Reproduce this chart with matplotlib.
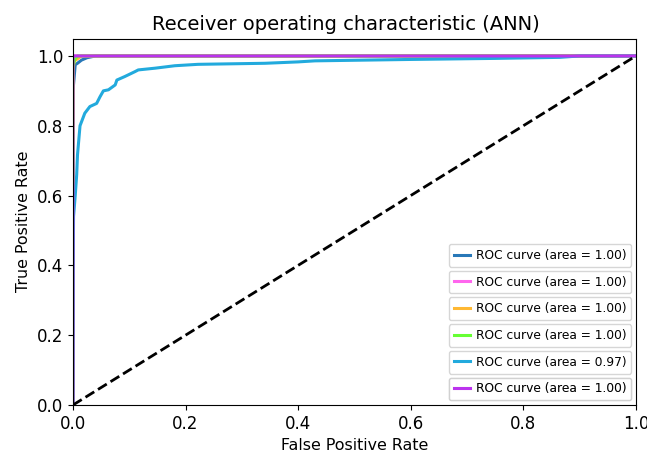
import matplotlib
matplotlib.use('Agg')
import matplotlib.pyplot as plt

# ROC points for each class (fpr, tpr)
fpr_0 = [0.0, 0.0, 0.004, 0.008, 0.015, 0.025, 0.04, 1.0]
tpr_0 = [0.0, 0.90, 0.975, 0.979, 0.988, 0.995, 1.0, 1.0]

fpr_1 = [0.0, 0.0, 0.002, 1.0]
tpr_1 = [0.0, 0.98, 1.0, 1.0]

fpr_2 = [0.0, 0.0, 0.002, 0.008, 0.015, 1.0]
tpr_2 = [0.0, 0.96, 0.985, 0.992, 1.0, 1.0]

fpr_3 = [0.0, 0.0, 0.003, 0.008, 1.0]
tpr_3 = [0.0, 0.97, 0.99, 1.0, 1.0]

fpr_4 = [0.0, 0.0005, 0.001, 0.004, 0.0066, 0.008, 0.0125, 0.021, 0.030, 0.042,
         0.048, 0.054, 0.063, 0.075, 0.078, 0.092, 0.110, 0.116, 0.146, 0.181,
         0.222, 0.341, 0.40, 0.43, 0.60, 0.75, 0.865, 0.90, 1.0]
tpr_4 = [0.0, 0.40, 0.54, 0.60, 0.66, 0.716, 0.80, 0.836, 0.855, 0.864,
         0.883, 0.90, 0.903, 0.917, 0.931, 0.941, 0.955, 0.960, 0.965, 0.972,
         0.976, 0.979, 0.983, 0.986, 0.990, 0.993, 0.996, 1.0, 1.0]

fpr_5 = [0.0, 0.0, 1.0]
tpr_5 = [0.0, 1.0, 1.0]

fprs = [fpr_0, fpr_1, fpr_2, fpr_3, fpr_4, fpr_5]
tprs = [tpr_0, tpr_1, tpr_2, tpr_3, tpr_4, tpr_5]
aucs = [1.00, 1.00, 1.00, 1.00, 0.97, 1.00]
colors = ['#2878b8', '#ff66ee', '#ffb833', '#66ff33', '#22aadd', '#bb33ee']

fig = plt.figure(figsize=(6.47, 4.53), dpi=100)
ax = fig.add_axes([0.1128, 0.106, 0.870, 0.809])

lines = []
for f, t, a, c in zip(fprs, tprs, aucs, colors):
    # snap off so the straight curves sit exactly on the others
    ln, = ax.plot(f, t, color=c, lw=2.2, snap=False,
                  label='ROC curve (area = %0.2f)' % a)
    lines.append(ln)
ax.plot([0, 1], [0, 1], 'k--', lw=2)

ax.set_xlim([0.0, 1.0])
ax.set_ylim([0.0, 1.05])
ax.tick_params(labelsize=12)
ax.set_xlabel('False Positive Rate', fontsize=11.4)
ax.set_ylabel('True Positive Rate', fontsize=11.4)
ax.set_title('Receiver operating characteristic (ANN)', fontsize=14, x=0.485)

# one legend box per curve, stacked down the right side
for i, ln in enumerate(lines):
    leg = ax.legend(handles=[ln], loc='upper right', fontsize=8.8,
                    bbox_to_anchor=(0.992, 0.4394 - i * 0.0729),
                    borderaxespad=0, handlelength=1.3, handletextpad=0.5)
    ax.add_artist(leg)

fig.savefig('out.png', dpi=100)
